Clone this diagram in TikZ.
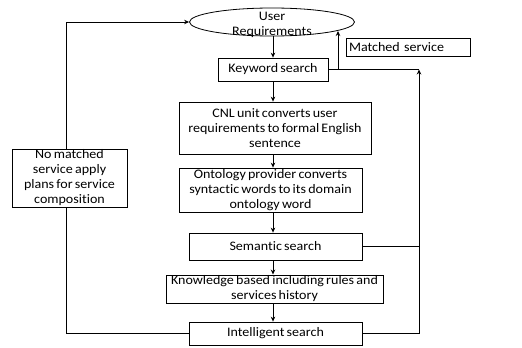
\documentclass[tikz,border=0pt]{standalone}
\usepackage{fontspec}
\setmainfont{Carlito}[FakeStretch=1.08, Ligatures={NoCommon}, WordSpace=0.7]
\usetikzlibrary{shapes.geometric,arrows.meta}
\begin{document}
\begin{tikzpicture}[x=1pt,y=-1pt,
  font=\fontsize{13}{15}\selectfont,
  box/.style={draw, line width=0.8pt, fill=white, align=center, inner sep=1pt},
  ln/.style={line width=0.8pt},
  arr/.style={line width=0.8pt, -{Stealth[length=5pt,width=4.5pt]}}]
\useasboundingbox (0,0) rectangle (522,348);
% nodes
\node[ellipse, draw, line width=0.8pt, minimum width=165pt, minimum height=28pt, inner sep=0pt] (ur) at (272,22) {};
\node[align=center, inner sep=0pt] (urt) at (272,25) {User\\Requirements};
\node[box, minimum width=110pt, minimum height=23pt] (kw) at (273,69.5) {Keyword search};
\node[box, minimum width=124pt, minimum height=18pt, text width=118pt, align=left] (ms) at (408,47) {Matched service};
\node[box, minimum width=192pt, minimum height=52pt] (cnl) at (275,128) {CNL unit converts user\\requirements to formal English\\sentence};
\node[box, minimum width=183pt, minimum height=44pt] (ont) at (270.5,190) {Ontology provider converts\\syntactic words to its domain\\ontology word};
\node[box, minimum width=173pt, minimum height=27pt] (sem) at (275.5,246.5) {Semantic search};
\node[box, minimum width=217pt, minimum height=28pt] (kb) at (274.5,289) {Knowledge based including rules and\\services history};
\node[box, minimum width=173pt, minimum height=23pt] (is) at (275.5,333.5) {Intelligent search};
\coordinate (lb) at (66,333.5);
\coordinate (lt) at (66,22);
\coordinate (j) at (338,69.5);
\coordinate (mt) at (338,31);
\coordinate (rb) at (419,333.5);
\coordinate (rs) at (419,246.5);
\coordinate (rt) at (419,69.5);
% connectors
\draw[arr] (is.west) -- (lb) -- (lt) -- (ur.west);
\node[box, minimum width=115pt, minimum height=46pt] (nm) at (69.5,178) {No matched\\service apply\\plans for service\\composition};
\draw[arr] (ur.south -| kw.north) -- (kw.north);
\draw[arr] (kw.south) -- (kw.south |- cnl.north);
\draw[arr] (kw.south |- cnl.south) -- (kw.south |- ont.north);
\draw[arr] (kw.south |- ont.south) -- (kw.south |- sem.north);
\draw[arr] (kw.south |- sem.south) -- (kw.south |- kb.north);
\draw[arr] (kw.south |- kb.south) -- (kw.south |- is.north);
\draw[ln] (kw.east) -- (j) -- (rt);
\draw[arr] (j) -- (mt);
\draw[ln] (sem.east) -- (rs);
\draw[arr] (is.east) -- (rb) -- (rt);
\end{tikzpicture}
\end{document}
